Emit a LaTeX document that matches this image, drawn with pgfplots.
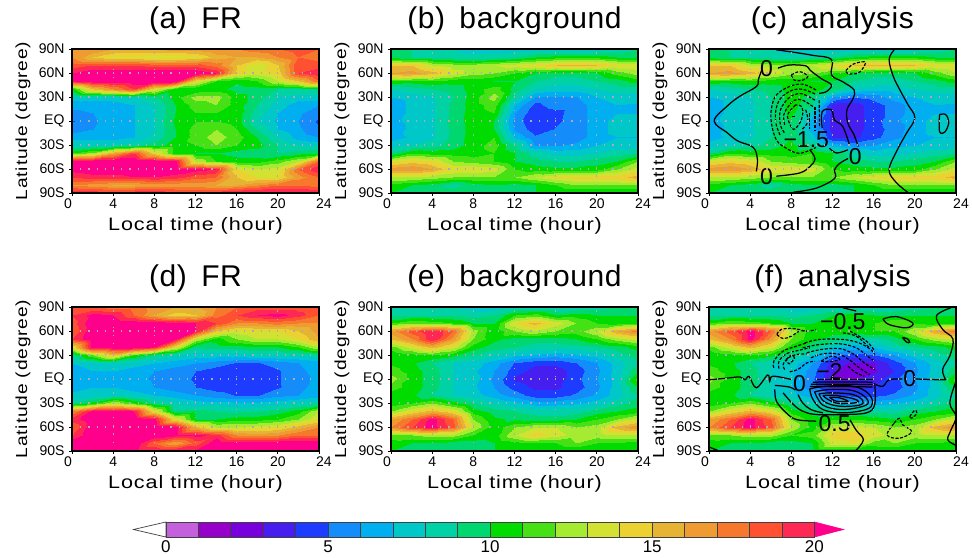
\documentclass[border=0pt]{standalone}
\usepackage{fontspec}
\usepackage{pgfplots}
\usepackage{pgfplotstable}
\pgfplotsset{compat=1.18}
\setmainfont{Liberation Sans}
\newfontfamily\lblfont[FakeStretch=1.2,LetterSpace=5]{Liberation Sans}
\newfontfamily\ttlfont[WordSpace=1.6,LetterSpace=2]{Liberation Sans}
\definecolor{lv0}{RGB}{196,96,220}\definecolor{lv1}{RGB}{150,0,200}\definecolor{lv2}{RGB}{120,0,220}
\definecolor{lv3}{RGB}{70,30,240}\definecolor{lv4}{RGB}{30,60,255}\definecolor{lv5}{RGB}{20,140,250}
\definecolor{lv6}{RGB}{0,175,240}\definecolor{lv7}{RGB}{0,200,200}\definecolor{lv8}{RGB}{0,210,165}
\definecolor{lv9}{RGB}{0,215,110}\definecolor{lv10}{RGB}{0,220,0}\definecolor{lv11}{RGB}{70,225,20}
\definecolor{lv12}{RGB}{165,235,50}\definecolor{lv13}{RGB}{210,225,50}\definecolor{lv14}{RGB}{235,210,50}
\definecolor{lv15}{RGB}{230,180,50}\definecolor{lv16}{RGB}{240,155,50}\definecolor{lv17}{RGB}{245,120,45}
\definecolor{lv18}{RGB}{255,80,50}\definecolor{lv19}{RGB}{255,40,85}\definecolor{lv20}{RGB}{255,0,140}
\pgfplotsset{
 colormap={gr}{rgb255=(196,96,220) rgb255=(150,0,200) rgb255=(120,0,220) rgb255=(70,30,240) rgb255=(30,60,255) rgb255=(20,140,250) rgb255=(0,175,240) rgb255=(0,200,200) rgb255=(0,210,165) rgb255=(0,215,110) rgb255=(0,220,0) rgb255=(70,225,20) rgb255=(165,235,50) rgb255=(210,225,50) rgb255=(235,210,50) rgb255=(230,180,50) rgb255=(240,155,50) rgb255=(245,120,45) rgb255=(255,80,50) rgb255=(255,40,85) rgb255=(255,0,140)},
 field/.style={surf,shader=interp,mesh/cols=13,point meta=explicit},
 sol/.style={black,line width=1.25pt,smooth,tension=0.6,no marks},
 das/.style={sol,line width=1.15pt,dash pattern=on 3pt off 1.6pt},
 panel/.style={scale only axis,width=247pt,height=144pt,anchor=south west,
  xmin=0,xmax=24,ymin=-90,ymax=90,colormap name=gr,colormap access=piecewise constant,point meta min=0,point meta max=21,
  xtick={0,4,...,24},xticklabels={\kern-8pt 0,4,8,12,16,20,\kern10pt 24},
  ytick={-90,-60,...,90},yticklabels={90S,60S,30S,EQ,30N,60N,90N},
  tick align=outside,xtick pos=bottom,ytick pos=left,major tick length=3pt,
  tick style={black,line width=0.9pt},axis line style={black,line width=1.1pt},
  grid=major,major grid style={draw=gray!65,line width=1.1pt,dash pattern=on 1.2pt off 7pt},axis on top,
  tick label style={font=\fontsize{14}{14}\selectfont},
  xticklabel style={yshift=1pt},yticklabel style={xshift=-1pt},
  xlabel={Local time (hour)},ylabel={Latitude (degree)},
  xlabel style={font=\lblfont\fontsize{18}{18}\selectfont,at={(axis description cs:0.5,0)},anchor=center,yshift=-33pt},
  ylabel style={font=\lblfont\fontsize{16}{16}\selectfont,at={(axis description cs:0,0.5)},anchor=center,yshift=49pt},
  title style={at={(axis description cs:0.5,1)},anchor=center,yshift=22pt,font=\ttlfont\fontsize{30}{30}\selectfont},
 }}
\newcommand\gridof[1]{\gdef\acc{}\foreach \r in {0,...,18}{\foreach \c in {0,...,12}{%
 \pgfmathtruncatemacro\cc{\c+1}\pgfmathtruncatemacro\xx{2*\c}%
 \pgfplotstablegetelem{\r}{[index]0}\of{#1}\let\la\pgfplotsretval
 \pgfplotstablegetelem{\r}{[index]\cc}\of{#1}\let\va\pgfplotsretval
 \xdef\acc{\acc(\xx,\la)[\va]}}}}
\newcommand\plotgrid[1]{\addplot[field] coordinates {#1};}
\newcommand\fieldof[1]{\gridof{#1}\expandafter\plotgrid\expandafter{\acc}}
\pgfplotstableread{
lat t0 t2 t4 t6 t8 t10 t12 t14 t16 t18 t20 t22 t24
90 17 17 16 16 16 16.5 16.5 17 17 17.5 18 18.5 18
80 17 15 14 14 13.5 13.5 14 15.5 16 16 17 18 17.5
70 18.5 19 19 19 18.5 18.5 18.5 17.5 15 13 15 19 18.5
60 20 21 21 21 21 21 21 20 14.5 13.5 14.5 19 20
50 20 21 21 21 21 21 14 11 10.2 11 13 15 18
40 10.5 15 17 19 14 10.5 10 10.5 9.5 9.5 9 9 9
30 7.5 7.5 7.5 8 9 10.5 12.5 12.5 10.5 9.5 8 7.5 7.5
20 6.5 6.5 6.5 7 8 10 11.5 12 10.5 9 7.5 6.5 6
10 5.7 6 6.5 7 8 10 11 11 10.5 8.5 7 6.2 5.3
0 4.9 5.9 6.3 7 8 10.2 11 11 10.5 8 6.8 6 4.8
-10 5.5 6 6.5 7 8 10 11.5 12 11 9 7 6.2 5.2
-20 6.5 6.5 6.5 7 8.2 10 11.5 12.5 11.5 10 8 6.5 6
-30 8 8 8 8.5 9.5 10.5 11 12 11 10.5 9 8 8
-40 11 12.5 16 19 14.5 10.5 10 10 9.5 9.5 9 9.5 10
-50 21 21 21 21 21 20.5 13 11 10.5 10.5 11.5 13 18
-60 20.5 21 21 21 21 21 20.5 20 14 13 13.5 18 20
-70 19 19.5 19.5 20 20 19.5 18.5 18 15 14 14 16.5 18
-80 17 16.5 16 16 16.5 16.5 16.5 16 16 17 18 18 17.5
-90 20 20 20 20 20 19.5 19.5 20 20.5 20.5 20.5 20.5 20.5
}\tabA
\pgfplotstableread{
lat t0 t2 t4 t6 t8 t10 t12 t14 t16 t18 t20 t22 t24
90 9 9 8 8 7.5 7.5 7.5 7.5 7.5 7.5 7.5 8 9
80 9.5 9 9 8.5 8.5 8.5 9 10 10.5 10.5 10.5 10 9.5
70 15 15 13 12.5 12.5 13 13.5 14 15 15.5 15 14 14
60 16 16.5 15.5 13.5 12.5 12 11 10 9.5 9.5 10 11.5 12.5
50 11 10.5 11 10.5 10.5 10 10 9 8.5 8.5 9 9.5 10.5
40 8 8.5 9 9.5 10.5 11.5 9.5 8 7.5 7.5 8 8.5 8.5
30 7 7.5 7.9 9 10.5 12.5 8.5 5.9 5.9 5.9 7 7.5 7.5
20 6 7.5 7.8 9.3 10.5 11.5 6.8 4.7 5.5 5.5 6.5 7 6.8
10 6 7.5 7.8 9.3 10.5 11 6 4.2 4.7 5.5 6.5 7 7
0 6.5 7.5 7.8 9.5 10.5 10 5.5 4.2 4.8 5.5 6.5 7.5 8
-10 6 7.5 7.8 9.3 10.5 10 5.8 4.4 5.1 5.5 6.5 7.5 7.5
-20 6.5 7.2 7.8 9.3 10.5 11 6.8 5.2 5.5 5.5 6.5 7 7
-30 7.5 8 8.5 9.5 10.5 11.5 9 5.9 5.9 6.2 7 7.5 7.5
-40 9 11 10.5 10.5 10.5 11 10 8.5 7.5 7.5 8 8.5 9
-50 13.5 14.5 14 12 11.5 11 10 9.5 9 9 9.5 10 12
-60 16.5 17 16 14 14 13.5 11 10.5 10.3 10.3 10.5 12 13.5
-70 13 13 12.5 12 12 12 12 13 14 14.5 14.5 14.5 15.5
-80 10.5 10 9.5 8.5 9.5 10 9.5 10 11 12 12 12 12
-90 10 10 10 10 10 10 10 10 10 10 10 10 10
}\tabB
\pgfplotstableread{
lat t0 t2 t4 t6 t8 t10 t12 t14 t16 t18 t20 t22 t24
90 9 9 8 8 7.5 7.5 7.5 7.5 7.5 7.5 7.5 8 9
80 9.5 9 9 8.5 8.5 8.5 9 10 10.5 10.5 10.5 10 9.5
70 15 15 13 12.5 12.5 13 14 15 15.5 15.5 15 14 14
60 16 16.5 15.5 13.5 12.5 12 11 10 9.5 9.5 10 11.5 13
50 11 10.5 11 10.5 10.5 10 10 9 8.5 8.5 9 9.5 10.5
40 8 8.5 9 9.5 10.5 10.5 9.5 7.8 7.5 7.5 8 8.5 8.5
30 7 7.5 7.9 9 10.5 9.5 6 5 5.5 6.5 7 7.5 7.5
20 6 7.5 7.8 9 10.5 9 3.6 3.5 4.5 5.5 6.5 7 6.8
10 6 7.5 7.8 9 10.3 7.5 3.5 3.5 4.5 5.5 6.5 7 7
0 6.5 7.5 7.8 9 10 6.5 3.5 3.5 4.5 5.8 6.5 7.5 8
-10 6 7.5 7.8 9 10 6.5 3.5 3.5 4.5 5.5 6.5 7.5 7.5
-20 6.5 7.2 7.8 9 10 7.5 3.8 3.7 4.7 5.7 6.5 7 7
-30 7.5 8 8.5 9.5 10.3 9 6.5 5.5 6 6.8 7 7.5 7.5
-40 9 11 10.5 10.5 10.5 11 10 8.5 7.5 7.5 8 8.5 9
-50 13.5 14.5 14 12 11.5 11 10 9.5 9 9 9.5 10 12
-60 16.5 17 16 14 14 13.5 11 10.5 10.3 10.3 10.5 12 13.5
-70 13 13 12.5 12 12 12 12 13 14 14.5 14.5 14.5 15.5
-80 10.5 10 9.5 8.5 9.5 10 9.5 10 11 12 12 12 12
-90 10 10 10 10 10 10 10 10 10 10 10 10 10
}\tabC
\pgfplotstableread{
lat t0 t2 t4 t6 t8 t10 t12 t14 t16 t18 t20 t22 t24
90 18 18 17.5 17.5 16.5 16 16 17 18 18.5 18.5 18.5 18
80 19 20.5 20 18 16 14.5 15 17.5 19 20 20.5 19.5 18
70 18.5 21 21 21 21 20.5 20 19 17 17 17.5 17 17
60 18 21 21 21 21 21 20 15 13.5 14 14 15 16.5
50 19 21 21 21 21 20.5 13 10.5 12 13 13 14 16
40 14 21 21 21 20 14 9 9.5 9.5 10 10 11 13
30 8.5 12 15 11 9 8 7.5 7.5 7.5 7.8 8 8 8.5
20 7 7.5 8 7.5 7 6.5 6 5.5 4.9 4.9 5.5 6 6.5
10 6.5 7 7 6.5 6 5.5 5 4.5 4.2 4.2 4.9 5.8 6.3
0 6.2 6.5 6.5 6.2 5.9 5.3 4.9 4.2 4.2 4.2 4.9 5.7 6.2
-10 6.5 7 7 6.5 6 5.5 5 4.5 4.2 4.2 4.9 5.8 6.3
-20 7.3 7.5 8 7.5 7 6.5 6 5.5 4.9 4.9 5.7 6 6.5
-30 8.8 10.5 13 11 9 8 7.5 7.5 7.2 7.2 7.5 8 8.5
-40 17 20.5 21 20 14 9 9.5 9 8.8 9 9.5 10.5 13
-50 19.5 21 21 21 20.5 14 10 10 10.5 10.5 11 12 14
-60 18 21 21 21 21 20.8 15.5 13 13 13.5 14 15.5 17
-70 19 21 21 21 21 20.5 20.5 19.5 17 16.5 17 18 18
-80 21 21 21 21 18 16 18.5 21 21 21 21 21 21
-90 20.5 20.5 20.5 20.5 20.5 20.5 20.5 20.5 20.5 20.5 20.5 20.5 20.5
}\tabD
\pgfplotstableread{
lat t0 t2 t4 t6 t8 t10 t12 t14 t16 t18 t20 t22 t24
90 9 8.5 8 8 7.5 7.5 8 8 8 8 8.5 9 10
80 9 9 9 9 8.5 9 11 11.5 10 10.5 10 10 10
70 11 12 11.5 11 10 10 14 15.5 13.5 12 11 10.5 11
60 16.5 18.5 20 18 12.5 10.2 12 13 12 11.5 13 16 17.5
50 15 17 20 16.5 12 10.3 9.5 9.5 9.5 10 11 12.5 13.5
40 11.5 13.5 15.5 13.5 10.5 9.5 9 8.5 8.5 8.5 9 9.5 10.5
30 10 10.5 11 10.3 9 8 7.3 6.8 6.5 6.8 7.5 8.5 9.5
20 10.8 10.2 9 8 7.5 6.5 4.9 4.3 4.3 5 6 7.5 9
10 11.5 10.5 9.5 8 7.2 6 4.5 3.5 3.5 4.5 5.8 7.5 10
0 12.5 10.5 9.5 8 7.5 5.8 3.8 3.3 3.5 4.7 6 7.5 11.5
-10 11.5 10.5 9.5 8 7.2 6 4.6 3.7 3.8 4.5 5.8 7.5 10
-20 10.5 10.2 9 8 7.5 6.5 5.5 4.5 4.5 5.2 6.2 7.5 9
-30 10.5 11 12 10.5 9 8 7.3 6.5 6.5 6.8 7.5 8.5 9.5
-40 12 14 15.5 14 10.5 9.5 9 8.5 8.5 8.5 9.5 10 10.5
-50 16 18 20.5 18 12 10.2 9.8 9.5 9.5 10 11 12 13.5
-60 17 19 20.5 18.5 13 10.3 12 13 13 12 12.5 15.5 17
-70 11.5 12 12.5 12.5 11 10.5 13 14.5 13.5 12.5 12.5 13 13
-80 10.5 10 10 9.5 9.5 10 10.5 10.8 11 12 11 10.8 10.5
-90 10 10 10 10 10 10 10 10 10 10 10 10 10
}\tabE
\pgfplotstableread{
lat t0 t2 t4 t6 t8 t10 t12 t14 t16 t18 t20 t22 t24
90 9 8.5 8 8 7.5 7.5 8 8 8 8 8.5 9 10
80 9 9 9 9 8.5 9 10 10.5 10 10 10 10 10
70 11 12 11.5 11 10 10 11 11 11 12 11 10.5 11
60 16.5 18.5 20.5 18 12.5 10.5 10.5 10.5 11 11 13 16 17.5
50 15 17 20.5 16.5 12 10.3 9.5 8.5 8.5 9.5 11 12.5 13.5
40 11.5 13.5 15.5 13.5 10.5 9.5 7.5 6.5 7 8.3 9 9.5 10.5
30 10 10.5 11 10.3 9 7.5 5.5 4.5 5 6 7.5 8.5 9.5
20 10.8 10.2 9 8 7.5 6 3.5 2.8 3 4.5 6 7.5 9
10 11.5 10.5 9.5 8 7.2 5.5 3 2.5 2.8 4 5.8 7.5 10
0 12.5 10.5 9.5 8 7.2 5.2 3 3 3.5 4.7 6 7.5 11.5
-10 11.5 10.5 9.5 8 7 5.5 3.7 3.7 4 4.5 5.8 7.5 10
-20 10.5 10.2 9 8 7.5 6.5 5 4.7 4.7 5.2 6.2 7.5 9
-30 10.5 11 12 10.5 9 8 7 6.5 6.5 6.8 7.5 8.5 9.5
-40 12 14 15.5 14 10.5 9.5 9 9 8.7 8.5 9.5 10 10.5
-50 16 18 20.5 18 12 10.5 11 11 10.5 10 11 12 13.5
-60 17 19 20.5 18.5 13 10.5 13 13.5 13 12 12.5 15.5 17
-70 11.5 12 12.5 12.5 11 11.5 14.5 14.5 13.5 12.5 12.5 13 13
-80 10.5 10 10 9.5 9.5 10 13.5 14 11.5 12 11 10.8 10.5
-90 10 10 10 10 10 10 10 10 10 10 10 10 10
}\tabF
\newcommand\cb[3]{\addplot[fill=#3,draw=black!75,line width=0.7pt] coordinates {(#1,0)(#2,0)(#2,1)(#1,1)} --cycle;}
\newcommand\clabel[2]{\node[font=\fontsize{23}{23}\selectfont,inner sep=0pt] at (axis cs:#1) {#2};}
\begin{document}
\begin{tikzpicture}
\path[use as bounding box] (0,0) rectangle (972pt,557pt);
\begin{axis}[panel,at={(72pt,364pt)},title={(a) FR}]
\fieldof{\tabA}
\end{axis}
\begin{axis}[panel,at={(391pt,364pt)},title={(b) background}]
\fieldof{\tabB}
\end{axis}
\begin{axis}[panel,at={(709pt,364pt)},title={(c) analysis}]
\fieldof{\tabC}
\addplot[sol] coordinates {(5.1,63)(4.8,52)(4.6,43)(3,31)(1.8,19)(0.5,0)(1.8,-15)(2.8,-25)(4.3,-33)(4.7,-48)(4.6,-63)};
\addplot[sol] coordinates {(6.55,-69)(8.8,-65)(9.8,-57)(10.3,-47)(9.8,-36)};
\addplot[sol] coordinates {(6.7,66)(7.8,70)(9.4,69)(9.8,63.75)(10.9,53)(11.9,45)(11.4,36.7)(10.7,34.6)};
\addplot[sol] coordinates {(6.5,89)(8.2,86)(10.1,82)(11.9,77)(11.9,57.5)(13,49)(14.1,38.75)(14,28)(13.4,13.75)(13.5,-3)(14.1,-17.5)(14.5,-32)};
\addplot[sol] coordinates {(11,-9)(11,11.7)(11.9,13.75)(12.2,1.25)(13,-7)(13.65,-30)};
\addplot[sol] coordinates {(8.2,-89)(10.4,-84)(12.2,-72)(12.2,-61)(12.7,-53)(13.5,-47)};
\addplot[sol] coordinates {(18,89)(17.5,77)(17.9,56)(18.5,40)(19.3,21)(20,4)(19.2,-15)(18.3,-36)(17.5,-61)(18.2,-77)(19.3,-89)};
\addplot[sol] coordinates {(22.4,8)(23,8)(23.3,-2)(22.9,-14)(22.4,-13)(22.4,8)};
\addplot[sol] coordinates {(11.7,-34)(12.4,-40)(13.5,-36)};
\addplot[das] coordinates {(13.3,63)(14,71)(15.1,74)(15.1,69)(14.5,60)(13.5,59)(13.3,63)};
\addplot[das] coordinates {(8,57.5)(8.8,61.7)(9.6,56)(9.1,51)(8.3,51)(8,57.5)};
\addplot[das] coordinates {(10.4,38.75)(9.1,46)(7.8,43)(6.55,32.5)(6.07,15.8)(6.07,-3)(6.55,-23.75)(7.5,-34)(8.8,-40.4)(10.4,-33)};
\addplot[das] coordinates {(10.3,33.75)(9.1,39.6)(8,38)(6.94,28)(6.5,13.75)(6.5,-3)(6.9,-17.5)};
\addplot[das] coordinates {(10.3,26)(9.1,33.75)(8.2,32.5)(7.4,24)(6.9,11.7)(6.94,-5)(7.36,-15.4)};
\addplot[das] coordinates {(10.1,18)(9.1,26)(8.3,26)(7.7,18)(7.26,7.5)(7.36,-5)};
\addplot[das] coordinates {(8.4,20)(7.7,9.6)(7.7,1.25)(8.2,-10.4)(8.8,-3)(9.1,7.5)(9,18)(8.4,20)};
\addplot[das] coordinates {(9.4,14)(9.6,-1)(9,-11)};
\addplot[das] coordinates {(9.8,9.6)(9.8,-9.2)};
\addplot[das] coordinates {(10.3,18)(10.3,-11)};
\addplot[das] coordinates {(10.7,26)(10.75,-9)};
\addplot[das] coordinates {(8.1,6)(8.4,6)};
\clabel{5.6,66}{0}
\clabel{5.6,-69}{0}
\clabel{9.45,-23}{−1.5}
\clabel{14.2,-44.6}{0}
\end{axis}
\begin{axis}[panel,at={(72pt,106pt)},title={(d) FR}]
\fieldof{\tabD}
\end{axis}
\begin{axis}[panel,at={(391pt,106pt)},title={(e) background}]
\fieldof{\tabE}
\end{axis}
\begin{axis}[panel,at={(709pt,106pt)},title={(f) analysis}]
\fieldof{\tabF}
\addplot[sol] coordinates {(0,-1)(1.7,1)(3,2.5)(3.5,-1)(3.9,3)(4.6,-11)(5.7,5)(5.9,-3)(6.2,3.5)(8,-0.6)};
\addplot[sol] coordinates {(16.2,-7)(16.9,-9)(17.5,-1)(18.8,0)};
\addplot[sol] coordinates {(20.1,0)(22.4,-1)(23,-1)};
\addplot[sol] coordinates {(23.5,89)(22.1,79)(22.7,62)(23.7,50)(23.4,29)(22.7,12)(23,-1)};
\addplot[sol] coordinates {(24,-3)(23.4,-30)(24,-47)(23.5,-64)(23.2,-76)(24,-83)};
\addplot[sol] coordinates {(16.9,75)(18.2,78)(19.8,70)(19.2,64)(17.5,68)(16.9,75)};
\addplot[sol] coordinates {(18.8,52)(19.3,50)(19.5,46)(19.2,46)(18.8,52)};
\addplot[sol] coordinates {(10.4,-1)(13,-1)(15.9,-1)};
\addplot[sol] coordinates {(10.1,-4)(13,-3.6)(15.9,-4)};
\addplot[sol] coordinates {(9.9,-6.5)(13,-6.5)(15.9,-7)};
\addplot[sol] coordinates {(9.8,-9.4)(13,-9.4)(15.9,-10)};
\addplot[sol] coordinates {(9.78,-12.3)(11.39,-9)(13.97,-9)(15.42,-17.3)(15.9,-29.8)(15.26,-38.2)(13,-42.3)(11.07,-38.2)(10.1,-25.6)(9.78,-12.3)};
\addplot[sol] coordinates {(10.26,-16)(11.71,-13.2)(13.97,-14.4)(15.26,-23.6)(15.26,-32.7)(13,-38.2)(11.07,-32.7)(10.26,-16)};
\addplot[sol] coordinates {(10.68,-18.6)(11.88,-17.3)(13.97,-19.4)(14.94,-26.9)(14.62,-32.7)(12.68,-34)(11.23,-28.6)(10.68,-18.6)};
\addplot[sol] coordinates {(11.07,-20.6)(12.2,-20.6)(13.97,-24.4)(14.46,-29)(12.68,-30.7)(11.55,-25.6)(11.07,-20.6)};
\addplot[sol] coordinates {(11.71,-22.7)(12.68,-23.6)(13.49,-27.7)(12.36,-27.7)(11.71,-22.7)};
\addplot[sol] coordinates {(6.4,-13)(6.55,-27.7)(7.5,-42.3)(8.5,-50.7)(10.4,-52.7)};
\addplot[sol] coordinates {(6.4,-8)(7.8,-10)(8.4,-14)};
\addplot[sol] coordinates {(13.7,-51)(14.3,-64)(15,-76)(14.3,-89)};
\addplot[sol] coordinates {(7.2,-17.3)(8.2,-31.9)(9.1,-40.2)(10.4,-44.4)(13,-44.4)(15.3,-42.3)(16.1,-31.9)(16.1,-4.8)};
\addplot[sol] coordinates {(8.65,-19.4)(9.1,-29.8)(9.9,-38.2)(11.07,-42.3)};
\addplot[sol] coordinates {(0,-85)(1,-90)};
\addplot[sol] coordinates {(13,89)(14.3,85)};
\addplot[das] coordinates {(6.6,55.6)(7.2,50.6)(8,53.5)(8.8,59.8)(9.5,59.8)};
\addplot[das] coordinates {(6.6,55.6)(7,61.9)(8.2,63.1)(9.5,59.8)(10.4,61.9)};
\addplot[das] coordinates {(13,57.7)(14.3,53.5)(15.6,38.9)};
\addplot[das] coordinates {(13.7,59.8)(15.3,47.3)(16.1,34.8)};
\addplot[das] coordinates {(9.3,45)(10.7,49.4)(13,49.4)(14.6,45)(15.7,36.9)(16.1,30.6)};
\addplot[das] coordinates {(9.1,39)(10.7,43)(12.7,44)(14.3,39)(15.4,28.5)(16.1,22.3)};
\addplot[das] coordinates {(9.5,32.7)(10.9,36.9)(12.7,38)(14,31.4)(15.1,20)(16.1,11.8)};
\addplot[das] coordinates {(9.9,26.4)(11,31.4)(12.5,31.4)(13.6,24.3)(14.6,14)(15.6,5.6)};
\addplot[das] coordinates {(10.9,22.3)(11.9,28.5)(12.7,24.3)(11.5,21.4)(10.9,22.3)};
\addplot[das] coordinates {(13.5,16)(14.3,7.7)(15.1,3.5)};
\addplot[das] coordinates {(6.3,14)(6.3,22.3)(7.2,34.8)(8.5,41)(9.5,45.2)};
\addplot[das] coordinates {(6.8,13)(6.8,22.3)(7.5,31.4)(8.65,35.6)(9.8,39)};
\addplot[das] coordinates {(7.36,11.9)(7.2,18)(7.7,26.4)(8.5,30.6)(9.5,31.4)};
\addplot[das] coordinates {(7.5,24.3)(8,29.8)(8.3,26.4)(7.8,19)(7.5,24.3)};
\addplot[das] coordinates {(7.84,9)(8.65,12)(9.5,20)(10.3,22.3)};
\addplot[das] coordinates {(19.5,-47)(20,-39)(20.2,-43)(19.7,-49)(19.5,-47)};
\addplot[das] coordinates {(18,-55)(18.5,-49)(18.8,-57)(19.7,-66)(18.5,-74)(17.3,-70)(18,-55)};
\clabel{13,71.4}{−0.5}
\clabel{11.7,9}{−2}
\clabel{8.8,-5.6}{0}
\clabel{19.5,0}{0}
\clabel{12.2,-56}{0.5}
\end{axis}
\begin{axis}[scale only axis,width=710pt,height=15pt,anchor=south west,at={(133.5pt,20pt)},
 xmin=-1,xmax=20.9,ymin=0,ymax=1,hide y axis,axis x line*=bottom,axis line style={draw=none},
 xtick={0,5,10,15,20},xticklabels={0,5,10,15,20},major tick length=0pt,
 tick label style={font=\fontsize{17}{17}\selectfont},clip=false]
\addplot[fill=white,draw=black!75,line width=0.7pt] coordinates {(0,0)(-1,0.5)(0,1)} --cycle;
\addplot[fill=lv20,draw=lv20,line width=0.7pt] coordinates {(20,0)(20.9,0.5)(20,1)} --cycle;
\cb{0}{1}{lv0}\cb{1}{2}{lv1}\cb{2}{3}{lv2}\cb{3}{4}{lv3}\cb{4}{5}{lv4}
\cb{5}{6}{lv5}\cb{6}{7}{lv6}\cb{7}{8}{lv7}\cb{8}{9}{lv8}\cb{9}{10}{lv9}
\cb{10}{11}{lv10}\cb{11}{12}{lv11}\cb{12}{13}{lv12}\cb{13}{14}{lv13}\cb{14}{15}{lv14}
\cb{15}{16}{lv15}\cb{16}{17}{lv16}\cb{17}{18}{lv17}\cb{18}{19}{lv18}\cb{19}{20}{lv19}
\end{axis}
\end{tikzpicture}
\end{document}
